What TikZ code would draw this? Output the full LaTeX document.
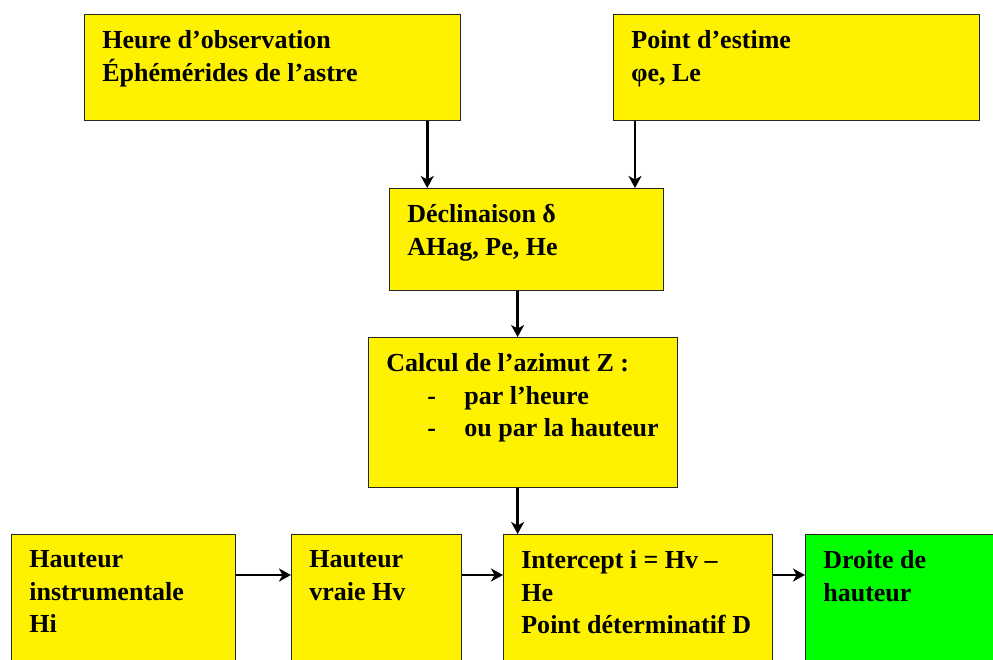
\documentclass[tikz,border=0pt]{standalone}
\usepackage{fontspec}
\setmainfont{Liberation Serif}
\usetikzlibrary{arrows.meta}

\tikzset{
  box/.style={draw=black!85, line width=0.7pt, fill=yellow, anchor=north west, inner sep=0pt},
  txt/.style={anchor=north west, align=left, inner xsep=0.36cm, inner ysep=0.32cm,
              font=\fontsize{14.8}{18.6}\selectfont\bfseries},
  arr/.style={line width=1.5pt, -{Stealth[length=2.4mm,width=2.6mm,inset=0.7mm]}}
}

\begin{document}
\begin{tikzpicture}%
   \clip (0,0) rectangle (19.86,-13.18);
   \fill[white] (0,0) rectangle (19.86,-13.18);
   % top row
   \node[box, minimum width=7.52cm, minimum height=2.12cm] (obs) at (1.68,-0.28) {};
   \node[txt] (obs-t) at (obs.north west) {Heure d’observation\\Éphémérides de l’astre};
   \node[box, minimum width=7.32cm, minimum height=2.12cm] (est) at (12.26,-0.28) {};
   \node[txt] (est-t) at (est.north west) {Point d’estime\\φe, Le};
   % middle
   \node[box, minimum width=5.48cm, minimum height=2.04cm] (decl) at (7.78,-3.76) {};
   \node[txt] (decl-t) at (decl.north west) {Déclinaison δ\\AHag, Pe, He};
   \node[box, minimum width=6.18cm, minimum height=3.0cm] (calc) at (7.36,-6.74) {};
   \node[txt] (calc-t) at (calc.north west) {Calcul de l’azimut Z :\\
      \hspace*{0.82cm}\makebox[0.74cm][l]{-}par l’heure\\
      \hspace*{0.82cm}\makebox[0.74cm][l]{-}ou par la hauteur};
   % bottom row
   \node[box, minimum width=4.48cm, minimum height=3.4cm] (hi) at (0.22,-10.68) {};
   \node[txt] (hi-t) at (hi.north west) {Hauteur\\instrumentale\\Hi};
   \node[box, minimum width=3.4cm, minimum height=3.4cm] (hv) at (5.82,-10.68) {};
   \node[txt] (hv-t) at (hv.north west) {Hauteur\\vraie Hv};
   \node[box, minimum width=5.38cm, minimum height=3.4cm] (icpt) at (10.06,-10.68) {};
   \node[txt] (icpt-t) at (icpt.north west) {Intercept i = Hv –\\He\\Point déterminatif D};
   \node[box, fill=green, minimum width=4.4cm, minimum height=3.4cm] (droite) at (16.10,-10.68) {};
   \node[txt] (droite-t) at (droite.north west) {Droite de\\hauteur};
   % arrows
   \draw[arr] ([xshift=-0.68cm]obs.south east) -- ([xshift=-0.68cm]obs.south east |- decl.north);
   \draw[arr] ([xshift=0.44cm]est.south west) -- ([xshift=0.44cm]est.south west |- decl.north);
   \draw[arr] ([xshift=-0.18cm]decl.south) -- ([xshift=-0.18cm]decl.south |- calc.north);
   \draw[arr] ([xshift=-0.11cm]calc.south) -- ([xshift=-0.11cm]calc.south |- icpt.north);
   \draw[arr] ([yshift=-0.82cm]hi.north east) -- ([yshift=-0.82cm]hi.north east -| hv.west);
   \draw[arr] ([yshift=-0.82cm]hv.north east) -- ([yshift=-0.82cm]hv.north east -| icpt.west);
   \draw[arr] ([yshift=-0.82cm]icpt.north east) -- ([yshift=-0.82cm]icpt.north east -| droite.west);
\end{tikzpicture}
\end{document}
